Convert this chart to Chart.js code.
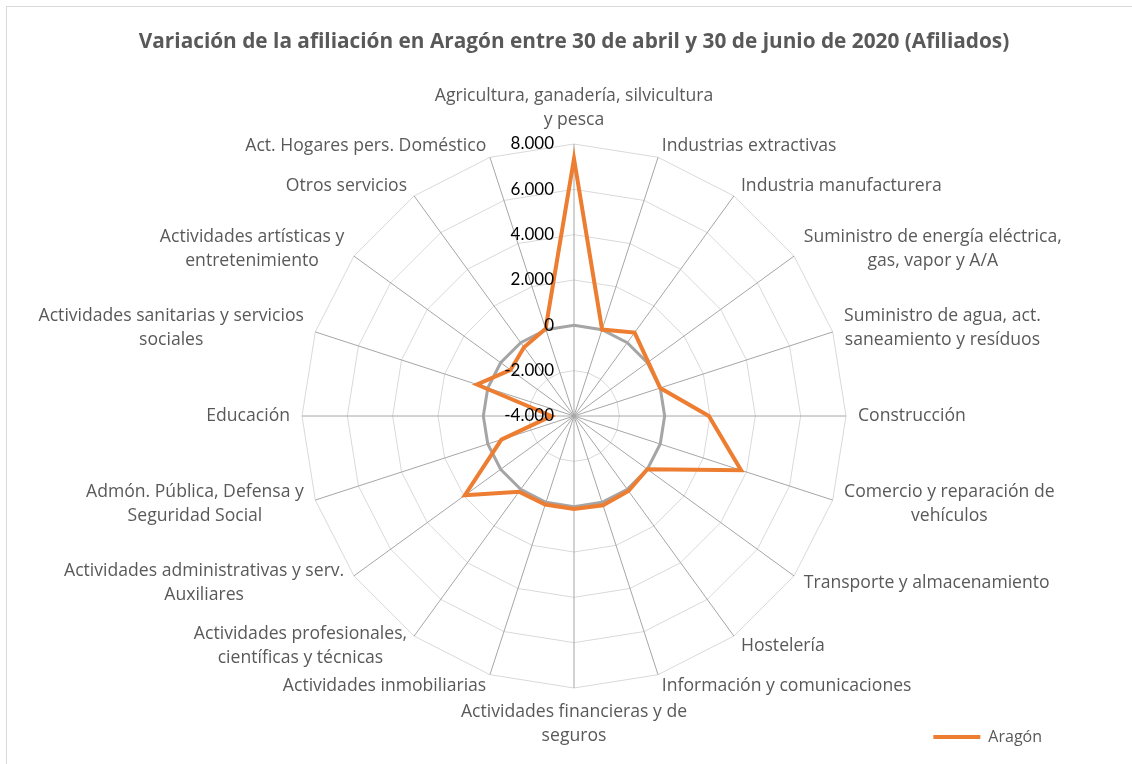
<!DOCTYPE html>
<html>
<head>
<meta charset="utf-8">
<script src="https://cdn.jsdelivr.net/npm/chart.js@4.4.1/dist/chart.umd.min.js"></script>
<style>
html,body{margin:0;padding:0;background:#fff;}
#wrap{position:relative;width:1132px;height:764px;overflow:hidden;background:#fff;}
#frame{position:absolute;left:6px;top:6px;width:1300px;height:900px;border:1.5px solid #d9d9d9;}
canvas{position:absolute;left:0;top:0;}
</style>
</head>
<body>
<div id="wrap"><div id="frame"></div><canvas id="c" width="1132" height="764"></canvas></div>
<script>
// ---- data ----
const chartTitle = 'Variación de la afiliación en Aragón entre 30 de abril y 30 de junio de 2020 (Afiliados)';
const seriesName = 'Aragón';
const categories = [
  ['Agricultura, ganadería, silvicultura', 'y pesca'],
  'Industrias extractivas',
  'Industria manufacturera',
  ['Suministro de energía eléctrica,', 'gas, vapor y A/A'],
  ['Suministro de agua, act.', 'saneamiento y resíduos'],
  'Construcción',
  ['Comercio y reparación de', 'vehículos'],
  'Transporte y almacenamiento',
  'Hostelería',
  'Información y comunicaciones',
  ['Actividades financieras y de', 'seguros'],
  'Actividades inmobiliarias',
  ['Actividades profesionales,', 'científicas y técnicas'],
  ['Actividades administrativas y serv.', 'Auxiliares'],
  ['Admón. Pública, Defensa y', 'Seguridad Social'],
  'Educación',
  ['Actividades sanitarias y servicios', 'sociales'],
  ['Actividades artísticas y', 'entretenimiento'],
  'Otros servicios',
  'Act. Hogares pers. Doméstico'
];
const aragon = [7350, 10, 550, 50, 0, 1950, 3750, 0, 90, 140, 100, 110, 130, 1950, -630, -3000, 500, -540, -250, 50];
const axisMin = -4000;
const axisMax = 8000;
const axisStep = 2000;

// ---- helpers ----
const fmt = v => (v < 0 ? '-' : '') + String(Math.abs(v)).replace(/\B(?=(\d{3})+(?!\d))/g, '.');
const LABEL_FONT = '"Open Sans", Lato, sans-serif';
const TICK_FONT = 'Lato, "Open Sans", sans-serif';
const LABEL_GAP = 12;
const LABEL_LINE = 24;

const pointLabelPlugin = {
  id: 'excelPointLabels',
  afterDraw(chart) {
    const s = chart.scales.r;
    const ctx = chart.ctx;
    const n = chart.data.labels.length;
    const dist = s.drawingArea + LABEL_GAP;
    ctx.save();
    ctx.font = '17.6px ' + LABEL_FONT;
    ctx.fillStyle = '#595959';
    ctx.textBaseline = 'middle';
    ctx.textAlign = 'center';
    chart.data.labels.forEach((lab, i) => {
      const lines = Array.isArray(lab) ? lab : [lab];
      const p = s.getPointPosition(i, dist);
      const deg = Math.round(i * 360 / n);
      const w = Math.max(...lines.map(l => ctx.measureText(l).width));
      const h = lines.length * LABEL_LINE;
      let cx, top;
      if (deg === 0) { cx = p.x; top = p.y - h; }
      else if (deg === 180) { cx = p.x; top = p.y; }
      else if (deg < 180) { cx = p.x + w / 2; top = p.y - h / 2; }
      else { cx = p.x - w / 2; top = p.y - h / 2; }
      lines.forEach((l, k) => ctx.fillText(l, cx, top + LABEL_LINE * (k + 0.5)));
    });
    ctx.restore();
  }
};

const tickLabelPlugin = {
  id: 'excelTickLabels',
  afterDatasetsDraw(chart) {
    const s = chart.scales.r;
    const ctx = chart.ctx;
    ctx.save();
    ctx.font = '17px ' + TICK_FONT;
    ctx.fillStyle = '#000000';
    ctx.textAlign = 'right';
    ctx.textBaseline = 'middle';
    s.ticks.forEach(t => {
      const d = s.getDistanceFromCenterForValue(t.value);
      ctx.fillText(fmt(t.value), s.xCenter - 20, s.yCenter - d);
    });
    ctx.restore();
  }
};

new Chart(document.getElementById('c'), {
  type: 'radar',
  data: {
    labels: categories,
    datasets: [{
      label: seriesName,
      data: aragon,
      borderColor: '#ed7d31',
      backgroundColor: '#ed7d31',
      borderWidth: 4,
      pointRadius: 0,
      pointHoverRadius: 0,
      fill: false,
      tension: 0
    }]
  },
  options: {
    responsive: false,
    animation: false,
    devicePixelRatio: 1,
    layout: { padding: { left: 66, right: 50, top: 0, bottom: 9 } },
    scales: {
      r: {
        min: axisMin,
        max: axisMax,
        ticks: { stepSize: axisStep, display: false },
        grid: {
          circular: false,
          color: c => (c.tick && c.tick.value === 0) ? '#a5a5a5' : '#d9d9d9',
          lineWidth: c => (c.tick && c.tick.value === 0) ? 3 : 1
        },
        angleLines: { color: '#a6a6a6', lineWidth: 1 },
        pointLabels: { display: false }
      }
    },
    plugins: {
      tooltip: { enabled: false },
      title: {
        display: true,
        text: chartTitle,
        color: '#595959',
        font: { family: LABEL_FONT, size: 20.8, weight: 'bold', lineHeight: 1.2 },
        padding: { top: 30, bottom: 88.1 }
      },
      legend: {
        display: true,
        position: 'bottom',
        align: 'end',
        labels: {
          usePointStyle: true,
          pointStyle: 'line',
          pointStyleWidth: 47,
          padding: 40,
          color: '#595959',
          font: { family: LABEL_FONT, size: 16 }
        }
      }
    }
  },
  plugins: [pointLabelPlugin, tickLabelPlugin]
});
</script>
</body>
</html>
